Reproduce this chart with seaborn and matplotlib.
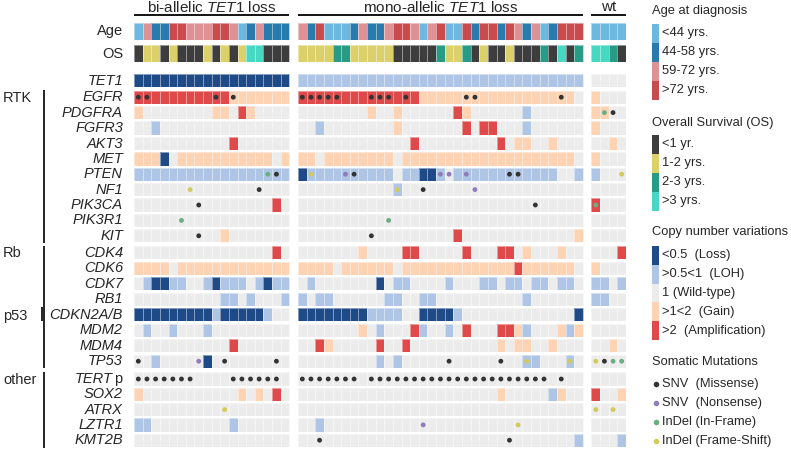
import numpy as np
import matplotlib
matplotlib.use("Agg")
import matplotlib.pyplot as plt
from matplotlib.colors import ListedColormap
from matplotlib.patches import Rectangle
import seaborn as sns

# ---- data -------------------------------------------------------------
# one character per sample, "|" splits the groups (18 | 33 | 4 samples)
groups = ["bi-allelic $\\mathit{TET1}$ loss", "mono-allelic $\\mathit{TET1}$ loss", "wt"]

age_labels = ["<44 yrs.", "44-58 yrs.", "59-72 yrs.", ">72 yrs."]
age = "021133222332012111|213000121123320230031331321201333|0000"

os_labels = ["<1 yr.", "1-2 yrs.", "2-3 yrs.", ">3 yrs."]
os_time = "011010001010133000|111122111110000021120100100020302|3320"

# copy number: L loss, H LOH, . wild-type, G gain, A amplification
cnv_labels = ["<0.5  (Loss)", ">0.5<1  (LOH)", "1 (Wild-type)", ">1<2  (Gain)", ">2  (Amplification)"]
genes = ["TET1",
         "EGFR", "PDGFRA", "FGFR3", "AKT3", "MET", "PTEN", "NF1", "PIK3CA", "PIK3R1", "KIT",
         "CDK4", "CDK6", "CDK7", "RB1", "CDKN2A/B", "MDM2", "MDM4", "TP53",
         "TERT", "SOX2", "ATRX", "LZTR1", "KMT2B"]
cnv = [
    "LLLLLLLLLLLLLLLLLL|HHHHHHHHHHHHHHHHHHHHHHHHHHHHHHHHH|....",
    "AAAAAAAAAAAGGGGGGG|AAAAAAAAAAAAAAGGGGGGGGGGGGGGGGGG.|G...",
    "G........GG.AG....|........G..G......AG......H......|GG..",
    "..H...............|..H........G.......A.AA...H......|G...",
    "...........A......|.............A.........A.GG..G...|..G.",
    "GGGL.GGGGGGGGGGG.G|GG.GGGGGGGG.GGGGGGGGGGGGGGGGGGGG.|G...",
    "HHHHHHHHHHHHHHHHHH|LHHHHHHHHHH.HHLLH.HHHHHHHHHHHH..H|H...",
    "..................|...........H.....................|....",
    "................A.|.................................|A...",
    "..................|.................................|....",
    "..........G.......|..................A.............G|....",
    "................A.|.......G....AA.....A...AA.G...G..|...A",
    "GGGG.GGGGGGGGGGGGG|GGGG.GGGGGG.GGGGGGGGGGGGGAGGGGGG.|G...",
    ".HLLHH..HLHHH.HLHH|.H.......L.HH....H...HH.HH.HH.HH.|HH.H",
    "..........HH.H...H|H.HH......HH..HH..........H......|HH..",
    "LLLLLLLLLHLLLLLH..|LLLLLLLLHHHH..LLLLH.............L|....",
    ".H..H...H.........|.......G.H...AH..H.A...AAGH...GHG|....",
    "...........A......|..AG.....A..A..........G.GG..G...|..G.",
    "..H.....L.........|.........H.H..............HH...H.|....",
    "..................|.................................|....",
    "G...........G.G.A.|.......................G.....HG..|A..G",
    "..................|.................................|....",
    "HH.........H......|..H..............................|....",
    "..................|................................H|...H",
]

# somatic mutations: m missense, n nonsense, i in-frame, f frame-shift
mut_labels = ["SNV  (Missense)", "SNV  (Nonsense)", "InDel (In-Frame)", "InDel (Frame-Shift)"]
mut = {
    "EGFR":   "mm.......m.m......|mmmmm...mmm.m......mm.........m..|....",
    "PDGFRA": "..................|.................................|.im.",
    "PTEN":   "...............im.|.f...nm.........nn.n....mm.......|...f",
    "NF1":    "......f.......m...|...........f..m.....n............|....",
    "PIK3CA": ".......m..........|...........................m.....|i...",
    "PIK3R1": ".....i............|..........i......................|....",
    "KIT":    ".......m..........|........m........................|....",
    "TP53":   "m......n..m.....m.|.................m.....m..f....f.|fmii",
    "TERT":   "mmmmmmm....mmmmmm.|mmmmmmm.mmmmmmmmmmmmmmmmmmmmm.m..|....",
    "ATRX":   "..........f.......|.................................|f.f.",
    "LZTR1":  "..................|..............n..........f.......|....",
    "KMT2B":  "..................|..m.....................m........|....",
}

age_colors = ["#6db8df", "#2a7bad", "#de9295", "#c94b4e"]
os_colors = ["#3d3d3d", "#dcd06a", "#289b87", "#47d8c3"]
cnv_colors = ["#1e4a87", "#aec5e5", "#ececec", "#fdd3b3", "#e0494a"]
mut_colors = ["#333333", "#8f7dba", "#6aaf82", "#d3cb57"]

# ---- layout helpers (pixel coordinates) --------------------------------
W, H = 791, 449
X0, X1 = 134, 626

sns.set_style("white")
plt.rcParams["font.family"] = ["Liberation Sans", "DejaVu Sans"]
plt.rcParams["mathtext.fontset"] = "custom"
plt.rcParams["mathtext.rm"] = "Liberation Sans"
plt.rcParams["mathtext.it"] = "Liberation Sans:italic"

fig = plt.figure(figsize=(W / 100, H / 100), dpi=100)


def expand(s, codes):
    vals = []
    for k, part in enumerate(s.split("|")):
        if k:
            vals.append(np.nan)
        vals += [codes.index(ch) for ch in part]
    return np.array(vals, dtype=float)


def draw_row(top, height, values, colors, dots=None):
    ax = fig.add_axes([X0 / W, 1 - (top + height) / H, (X1 - X0) / W, height / H])
    sns.heatmap(values[None, :], ax=ax, cmap=ListedColormap(colors),
                vmin=-0.5, vmax=len(colors) - 0.5, cbar=False,
                linewidths=0.6, linecolor=(1, 1, 1, 0.45),
                xticklabels=False, yticklabels=False)
    if dots is not None:
        idx = np.where(~np.isnan(dots))[0]
        ax.scatter(idx + 0.5, np.full(len(idx), 0.5),
                   c=[mut_colors[int(d)] for d in dots[idx]],
                   s=12, linewidths=0, zorder=3)
    return ax


draw_row(22.7, 16.8, expand(age, "0123"), age_colors)
draw_row(45, 16.8, expand(os_time, "0123"), os_colors)

row_tops = [74] + [90.5 + 15.4 * k for k in range(10)] \
    + [246 + 15.5 * k for k in range(8)] + [372.3 + 15.3 * k for k in range(5)]
for g, s, top in zip(genes, cnv, row_tops):
    dots = expand(mut[g], ".mnif") - 1 if g in mut else None
    if dots is not None:
        dots[dots < 0] = np.nan
    draw_row(top, 13.4, expand(s, "LH.GA"), cnv_colors, dots)

# ---- annotations -------------------------------------------------------
ov = fig.add_axes([0, 0, 1, 1])
ov.set_xlim(0, W)
ov.set_ylim(H, 0)
ov.axis("off")

for lab, y in [("Age", 31), ("OS", 53.5)]:
    ov.text(123, y, lab, ha="right", va="center", fontsize=10.5)
for g, top in zip(genes, row_tops):
    yc = top + 6.8
    if g == "TERT":
        ov.text(113, yc, "TERT", ha="right", va="center", fontsize=10.5, style="italic")
        ov.text(122, yc, "p", ha="right", va="center", fontsize=10.5)
    else:
        ov.text(123, yc, g, ha="right", va="center", fontsize=10.5, style="italic")

for lab, y in [("RTK", 98), ("Rb", 253), ("p53", 316), ("other", 380)]:
    ov.text(3, y, lab, ha="left", va="center", fontsize=10.5)
for y0, y1, x in [(90, 243, 44), (246, 368, 44), (307, 321, 41.5), (372, 448, 44)]:
    ov.plot([x, x], [y0, y1], color="black", lw=1.2, solid_capstyle="butt")

pitch = (X1 - X0) / 57
for lab, c0, n in zip(groups, [0, 19, 53], [18, 33, 4]):
    xa, xb = X0 + c0 * pitch, X0 + (c0 + n) * pitch
    ov.plot([xa, xb], [14.8, 14.8], color="black", lw=1.3, solid_capstyle="butt")
    ov.text((xa + xb) / 2, 7, lab, ha="center", va="center", fontsize=11)

# legend
LX = 651.7
LF = 9.3


def swatch_legend(title, ty, y0, labels, colors, step=18.9):
    ov.text(652, ty, title, ha="left", va="center", fontsize=LF)
    for k, (lab, col) in enumerate(zip(labels, colors)):
        ov.add_patch(Rectangle((LX, y0 + k * step), 7.6, step, color=col, lw=0))
        ov.text(662, y0 + (k + 0.5) * step, lab, ha="left", va="center", fontsize=LF)


swatch_legend("Age at diagnosis", 11, 24, age_labels, age_colors)
swatch_legend("Overall Survival (OS)", 123, 135, os_labels, os_colors)
swatch_legend("Copy number variations", 232, 246, cnv_labels, cnv_colors, 18.8)
ov.text(652, 362, "Somatic Mutations", ha="left", va="center", fontsize=LF)
for k, (lab, col) in enumerate(zip(mut_labels, mut_colors)):
    y = 384 + k * 19
    ov.scatter([656], [y], s=16, color=col, linewidths=0)
    ov.text(661.5, y, lab, ha="left", va="center", fontsize=LF)

fig.savefig("out.png", dpi=100)
